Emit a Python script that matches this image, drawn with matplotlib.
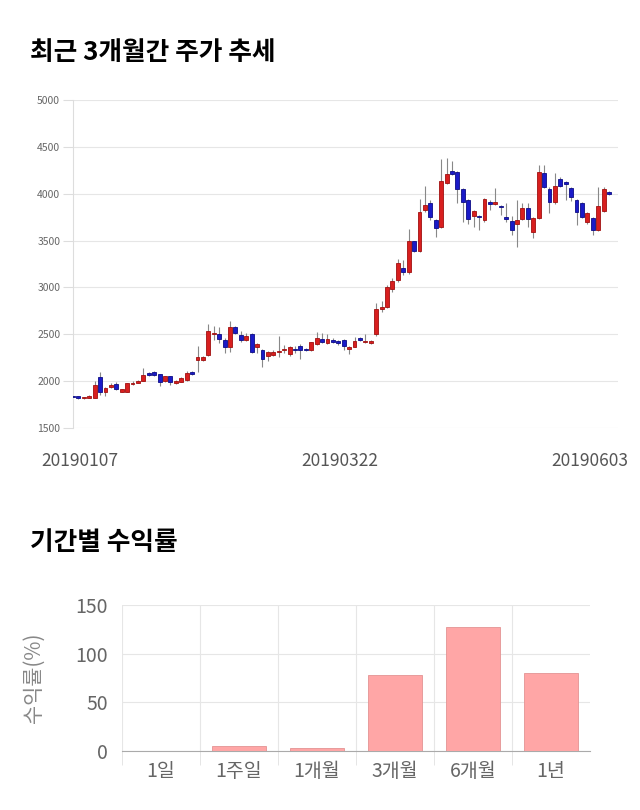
import numpy as np
import matplotlib
matplotlib.use("Agg")
import matplotlib.pyplot as plt
from matplotlib.transforms import ScaledTranslation

plt.rcParams['font.family'] = ['Noto Sans CJK KR', 'DejaVu Sans']

# daily candles, 2019-01-07 .. 2019-06-03
opens = [1838, 1838, 1815, 1818, 1825, 2040, 1882, 1935, 1970, 1885,
         1885, 1967, 1985, 2003, 2090, 2100, 2073, 2003, 2050, 1978,
         1995, 2013, 2100, 2225, 2228, 2280, 2505, 2500, 2440, 2362,
         2575, 2493, 2440, 2500, 2362, 2333, 2270, 2280, 2315, 2335,
         2286, 2340, 2378, 2336, 2333, 2395, 2450, 2404, 2440, 2430,
         2440, 2343, 2367, 2465, 2415, 2404, 2500, 2770, 2795, 2985,
         3075, 3210, 3160, 3495, 3390, 3825, 3898, 3720, 3643, 4110,
         4245, 4230, 4050, 3933, 3763, 3758, 3720, 3915, 3890, 3870,
         3750, 3705, 3678, 3730, 3845, 3595, 3738, 4218, 4050, 3910,
         4154, 4130, 4060, 3933, 3905, 3695, 3740, 3613, 3815, 4020]
highs = [1845, 1845, 1832, 1850, 2000, 2100, 1940, 1980, 1990, 1920,
         1985, 2000, 2010, 2137, 2100, 2110, 2080, 2060, 2060, 2010,
         2040, 2110, 2110, 2375, 2265, 2610, 2590, 2580, 2460, 2645,
         2590, 2540, 2510, 2510, 2412, 2340, 2320, 2330, 2482, 2385,
         2380, 2380, 2400, 2350, 2420, 2520, 2510, 2500, 2460, 2440,
         2450, 2370, 2475, 2475, 2500, 2440, 2830, 2850, 3030, 3097,
         3300, 3290, 3620, 3500, 3940, 4083, 3930, 3730, 4370, 4378,
         4345, 4240, 4060, 3940, 3830, 3770, 3950, 3935, 4065, 3880,
         3900, 3760, 3933, 3900, 3900, 3750, 4307, 4310, 4070, 4218,
         4180, 4140, 4075, 3940, 3910, 3800, 3750, 4075, 4070, 4030]
lows = [1828, 1810, 1805, 1815, 1820, 1852, 1840, 1930, 1910, 1880,
        1880, 1960, 1980, 2000, 2060, 2060, 1950, 1990, 1960, 1970,
        1990, 2005, 2065, 2100, 2220, 2270, 2440, 2410, 2300, 2315,
        2500, 2423, 2430, 2300, 2300, 2155, 2220, 2270, 2260, 2297,
        2270, 2300, 2237, 2320, 2320, 2390, 2410, 2400, 2410, 2390,
        2333, 2290, 2360, 2430, 2410, 2400, 2480, 2740, 2780, 2955,
        3060, 3130, 3140, 3382, 3380, 3810, 3720, 3535, 3630, 4100,
        4200, 3900, 3700, 3680, 3650, 3610, 3700, 3827, 3880, 3773,
        3700, 3560, 3435, 3720, 3643, 3525, 3730, 4060, 3790, 3890,
        4075, 3933, 3920, 3667, 3740, 3680, 3560, 3600, 3800, 3990]
closes = [1835, 1815, 1828, 1845, 1959, 1882, 1925, 1956, 1920, 1914,
          1978, 1985, 2005, 2067, 2070, 2067, 1995, 2050, 1990, 2005,
          2030, 2090, 2073, 2255, 2255, 2540, 2515, 2447, 2362, 2575,
          2510, 2440, 2482, 2308, 2397, 2233, 2315, 2315, 2325, 2342,
          2367, 2327, 2333, 2330, 2415, 2465, 2422, 2450, 2422, 2404,
          2375, 2362, 2430, 2440, 2430, 2430, 2770, 2795, 3000, 3070,
          3265, 3160, 3495, 3390, 3810, 3880, 3750, 3638, 4137, 4215,
          4210, 4050, 3910, 3730, 3815, 3750, 3940, 3887, 3915, 3858,
          3735, 3615, 3720, 3845, 3730, 3738, 4235, 4075, 3910, 4083,
          4083, 4100, 3970, 3810, 3755, 3790, 3613, 3873, 4050, 4000]
date_ticks = [0, 50, 99]
date_labels = ['20190107', '20190322', '20190603']
price_ticks = [1500, 2000, 2500, 3000, 3500, 4000, 4500, 5000]

# period returns
periods = ['1일', '1주일', '1개월', '3개월', '6개월', '1년']
returns = [0.0, 5.5, 3.1, 78.2, 127.4, 80.3]
return_ticks = [0, 50, 100, 150]

fig = plt.figure(figsize=(6.4, 8.1), dpi=100)
W, H = 640, 810

fig.text(30 / W, 1 - 52 / H, '최근 3개월간 주가 추세', fontsize=18.5,
         fontweight='bold', va='center', ha='left')
fig.text(30 / W, 1 - 543 / H, '기간별 수익률', fontsize=18.5,
         fontweight='bold', va='center', ha='left')

# ---- candlestick chart
ax = fig.add_axes([72.7 / W, 1 - 428 / H, 545 / W, 328 / H])
o = np.array(opens, dtype=float)
c = np.array(closes, dtype=float)
idx = np.arange(len(o))
up = c >= o
colors = np.where(up, '#d81f1f', '#1a1ac8')
edges = np.where(up, '#a01010', '#0c0c85')
body = np.maximum(np.abs(c - o), 8)
bottom = np.minimum(o, c)

ax.vlines(idx, lows, highs, color='#888888', linewidth=0.8, zorder=2)
ax.bar(idx, body, bottom=bottom, width=0.72, color=colors,
       edgecolor=edges, linewidth=0.6, zorder=3)

ax.set_xlim(-0.05, 100.6)
ax.set_ylim(1500, 5000)
ax.set_yticks(price_ticks)
ax.set_yticklabels([str(t) for t in price_ticks], fontsize=7.5, color='#666666')
ax.tick_params(axis='y', length=7, color='#dddddd', pad=2)
ax.grid(axis='y', color='#e6e6e6', linewidth=0.8)
ax.set_axisbelow(True)
for s in ['top', 'right', 'bottom']:
    ax.spines[s].set_visible(False)
ax.spines['left'].set_color('#dddddd')

ax.set_xticks(date_ticks)
ax.set_xticklabels(date_labels, fontsize=12.5, color='#555555')
ax.tick_params(axis='x', length=0, pad=17)
shifts = [7, -4, -19]
for lab, dx in zip(ax.get_xticklabels(), shifts):
    lab.set_transform(lab.get_transform() + ScaledTranslation(dx / 100, 0, fig.dpi_scale_trans))

# ---- returns bar chart
bx = fig.add_axes([122 / W, 1 - 751 / H, 468 / W, 146 / H])
pos = np.arange(len(periods))
bx.bar(pos, returns, width=0.69, color='#ffa6a6', edgecolor='#e39393',
       linewidth=0.6, zorder=3)
bx.set_xlim(-0.5, len(periods) - 0.5)
bx.set_ylim(0, 150)
bx.set_yticks(return_ticks)
bx.set_yticklabels([str(t) for t in return_ticks], fontsize=14, color='#666666')
bx.tick_params(axis='y', length=0, pad=10)
bx.set_xticks(pos)
bx.set_xticklabels(periods, fontsize=14, color='#666666')
bx.set_xticks(pos - 0.5, minor=True)
bx.tick_params(axis='x', which='major', length=0, pad=7)
bx.tick_params(axis='x', which='minor', length=10, color='#e0e0e0')
bx.grid(axis='y', color='#e6e6e6', linewidth=0.8)
bx.grid(axis='x', which='minor', color='#e6e6e6', linewidth=0.8)
bx.set_axisbelow(True)
for s in ['top', 'right', 'left']:
    bx.spines[s].set_visible(False)
bx.spines['bottom'].set_color('#aaaaaa')
bx.set_ylabel('수익률(%)', fontsize=15, color='#888888')
bx.yaxis.set_label_coords(-0.165, 0.5)

fig.savefig('out.png', dpi=100)
